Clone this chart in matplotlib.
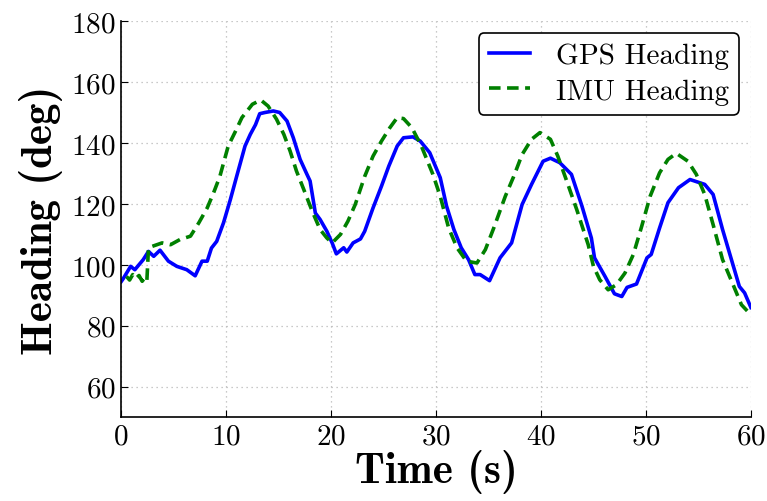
import matplotlib
matplotlib.use('Agg')
import matplotlib.pyplot as plt

plt.rcParams['font.family'] = 'cmr10'
plt.rcParams['axes.formatter.use_mathtext'] = True

# GPS heading (blue, solid)
gps_t = [0.0, 0.2, 0.9, 1.3, 2.1, 2.6, 3.1, 3.7, 4.5, 5.3, 6.25, 7.05, 7.7, 8.2,
         8.6, 9.1, 9.75, 10.4, 11.0, 11.8, 12.3, 12.8, 13.2, 13.7, 14.5, 15.1,
         15.8, 16.4, 17.05, 17.7, 18.0, 18.5, 18.95, 19.6, 20.1, 20.5, 21.2, 21.5,
         22.1, 22.8, 23.2, 24.0, 24.8, 25.5, 26.3, 26.9, 27.8, 28.5, 29.4, 30.4,
         31.0, 31.7, 32.4, 33.1, 33.7, 34.2, 35.1, 36.1, 37.2, 38.2, 39.1, 40.2,
         40.9, 41.8, 42.9, 43.9, 44.8, 45.1, 46.1, 47.0, 47.7, 48.2, 49.1, 50.1,
         50.5, 51.3, 52.1, 53.1, 54.2, 55.6, 56.4, 57.3, 58.9, 59.4, 60.0]
gps_h = [94.5, 95.5, 99.5, 98.4, 101.7, 104.4, 102.8, 104.8, 101.2, 99.5, 98.4, 96.4, 101.2, 101.2,
         105.5, 107.7, 113.8, 121.4, 129.0, 139.0, 142.8, 146.0, 149.6, 150.0, 150.5, 150.0,
         147.2, 141.7, 134.6, 129.7, 127.5, 117.0, 114.9, 111.0, 107.2, 103.6, 105.6, 104.2,
         107.2, 108.5, 111.0, 118.7, 125.8, 132.4, 139.0, 141.7, 142.0, 140.6, 136.8, 128.6,
         119.3, 111.6, 105.6, 101.7, 96.8, 96.8, 94.8, 102.3, 107.2, 119.8, 126.4, 134.0,
         135.0, 133.5, 129.7, 119.3, 108.8, 102.3, 96.2, 90.5, 89.6, 92.6, 93.7, 102.3,
         103.4, 112.1, 120.4, 125.3, 128.0, 126.4, 123.1, 111.6, 92.9, 90.8, 86.0]

# IMU heading (green, dashed)
imu_t = [0.5, 0.8, 1.1, 1.4, 1.7, 2.0, 2.3, 2.45, 2.6, 2.9, 3.9, 4.7, 5.6, 6.6, 7.4, 8.2,
         8.8, 9.4, 10.2, 10.9, 11.5, 12.5, 13.3, 14.0, 14.8, 15.5, 16.1, 16.7, 17.4,
         18.2, 18.95, 19.6, 20.1, 20.9, 21.6, 22.3, 23.2, 24.0, 24.8, 25.6, 26.3,
         26.9, 27.7, 28.6, 29.7, 30.4, 31.2, 32.0, 32.9, 33.9, 34.7, 35.5, 36.6,
         37.4, 38.2, 39.1, 39.9, 40.9, 41.6, 42.4, 43.4, 44.5, 45.0, 45.6, 46.4,
         47.2, 48.0, 48.8, 49.6, 50.4, 51.3, 52.1, 52.9, 54.0, 54.8, 55.6, 56.4,
         57.3, 58.3, 59.1, 59.7, 60.0]
imu_h = [96.2, 95.0, 96.8, 95.5, 96.5, 94.6, 96.0, 95.0, 105.5, 106.0, 107.2, 106.6, 108.3, 109.4, 113.8, 118.7,
         123.6, 129.0, 139.0, 143.9, 148.3, 152.7, 154.1, 152.1, 147.8, 142.8, 137.3, 130.8, 124.7,
         117.6, 111.6, 108.8, 107.2, 110.0, 114.3, 119.8, 129.0, 135.7, 140.6, 145.0, 148.3,
         148.0, 145.0, 139.0, 129.7, 122.5, 112.1, 105.6, 101.2, 100.6, 105.0, 112.1, 122.5,
         129.0, 136.2, 141.2, 143.4, 141.2, 135.7, 128.0, 118.2, 106.6, 99.5, 95.1, 91.8,
         93.5, 97.3, 103.4, 112.7, 122.5, 130.2, 134.6, 136.6, 134.0, 129.7, 123.1, 113.2,
         101.7, 93.5, 86.9, 84.7, 85.0]

fig = plt.figure(figsize=(7.67, 5.02), dpi=100)
ax = fig.add_axes([0.158, 0.167, 0.821, 0.789])

ax.plot(gps_t, gps_h, color='#0000ff', lw=2.6, label='GPS Heading')
ax.plot(imu_t, imu_h, color='#008000', lw=2.6, ls='--', dashes=(3.2, 1.8), label='IMU Heading')

ax.set_xlim(0, 60)
ax.set_ylim(50, 180)
ax.set_xticks([0, 10, 20, 30, 40, 50, 60])
ax.set_yticks([60, 80, 100, 120, 140, 160, 180])
ax.tick_params(labelsize=21, direction='in', length=5, top=False, right=False, pad=4)
ax.spines['top'].set_visible(False)
ax.spines['right'].set_visible(False)
ax.spines['left'].set_linewidth(1.2)
ax.spines['bottom'].set_linewidth(1.2)
ax.grid(True, ls=(0, (1, 3)), color='#b8b8b8', lw=0.9)

ax.set_xlabel('Time (s)', fontsize=31, family='cmb10', labelpad=0)
ax.set_ylabel('Heading (deg)', fontsize=31, family='cmb10', labelpad=6)

leg = ax.legend(loc='upper right', fontsize=21, handlelength=1.4, handletextpad=0.9,
                fancybox=True, framealpha=1, edgecolor='black', borderpad=0.35,
                labelspacing=0.3, borderaxespad=0.4)
leg.get_frame().set_linewidth(1.2)

fig.savefig('out.png', dpi=100)
